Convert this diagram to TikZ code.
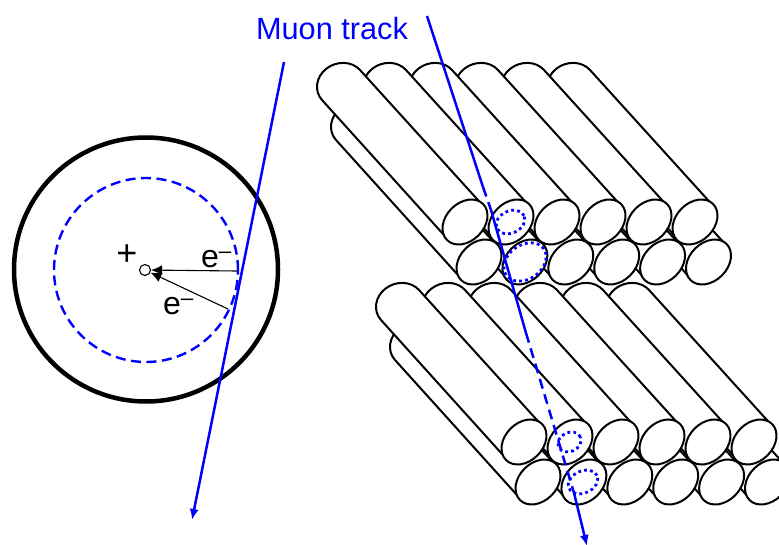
\documentclass[tikz,border=0pt]{standalone}
\usepackage{fontspec}
\setmainfont{Liberation Sans}
\usetikzlibrary{arrows.meta}
\definecolor{trackblue}{RGB}{0,0,255}
\tikzset{
  tube/.style={draw=black,fill=white,line width=2pt,line join=round},
  track/.style={draw=trackblue,line width=2.5pt},
  trackdash/.style={track,dash pattern=on 10pt off 6pt},
  signal/.style={draw=trackblue,line width=2.8pt,dash pattern=on 2.8pt off 3.2pt},
  drift/.style={draw=black,line width=1.1pt,-{Latex[length=11pt,width=10pt]}},
  label/.style={inner sep=0pt,font=\fontsize{32}{33}\selectfont}
}
\newcommand{\drawtube}[2]{
  \begin{scope}[shift={(#1,#2)}]
    \draw[tube] (18,-16.4) -- (-105,-152)
      .. controls (-113.1,-161) and (-128.2,-161.5) .. (-138.7,-153.3)
      .. controls (-149.2,-145) and (-151.1,-131) .. (-143,-122) -- (-18,16.4);
    \draw[tube] (0,0) ellipse[x radius=25.5pt,y radius=19pt,rotate=45];
  \end{scope}
}
\begin{document}
\begin{tikzpicture}[x=1pt,y=-1pt]
  \clip (0,0) rectangle (779,545);
  % Tube stacks, lower one first
  \foreach \dx/\dy in {59/220, 0/0} {
    \foreach \i in {5,4,3,2,1,0} {
      \drawtube{\dx+479+45.9*\i}{\dy+262}
    }
    \foreach \i in {5,4,3,2,1,0} {
      \drawtube{\dx+465+46*\i}{\dy+222}
    }
  }
  % Ionisation inside the hit tubes
  \draw[signal] (510.5,222) ellipse[x radius=15pt,y radius=11pt,rotate=25];
  \draw[signal] (525,262) ellipse[x radius=23pt,y radius=17pt,rotate=35];
  \draw[signal] (569.5,442) ellipse[x radius=12pt,y radius=9.5pt,rotate=25];
  \draw[signal] (583,482) ellipse[x radius=15.5pt,y radius=11pt,rotate=25];
  % Drift tube cross section
  \node[circle,draw=black,line width=4.5pt,minimum size=264pt,inner sep=0pt] (wall) at (146,269.5) {};
  \draw[trackblue,line width=2.4pt,dash pattern=on 10pt off 5.5pt] (146,270) circle[radius=92pt];
  \node[circle,draw=black,line width=1.1pt,fill=white,minimum size=11pt,inner sep=0pt] (wire) at (145,270) {};
  \coordinate (hita) at (237,271);
  \coordinate (hitb) at (228,309);
  \draw[drift] (hita) -- (wire);
  \draw[drift] (hitb) -- (wire);
  \node[label,font=\fontsize{36}{36}\selectfont] (plus) at (127,255) {+};
  \node[label,anchor=base west] (ea) at (201,268) {e\textsuperscript{--}};
  \node[label,anchor=base west] (eb) at (163,315) {e\textsuperscript{--}};
  % Muon tracks
  \node[label,text=trackblue,font=\fontsize{30.7}{32}\selectfont] (muon) at (332,29) {Muon track};
  \coordinate (lefttop) at (284,62);
  \coordinate (leftend) at (192,520);
  \draw[track,-{Latex[length=11pt,width=9pt]}] (lefttop) -- (leftend);
  \coordinate (ra) at (427,16);
  \coordinate (rb) at (483,187);
  \coordinate (rc) at (491,210);
  \coordinate (rd) at (526,333);
  \coordinate (re) at (574,493);
  \coordinate (rf) at (587,546);
  \draw[track] (ra) -- (rb);
  \draw[trackdash] (rb) -- (rc);
  \draw[track] (rc) -- (rd);
  \draw[trackdash] (rd) -- (re);
  \draw[track,-{Latex[length=11pt,width=9pt]}] (re) -- (rf);
\end{tikzpicture}
\end{document}
